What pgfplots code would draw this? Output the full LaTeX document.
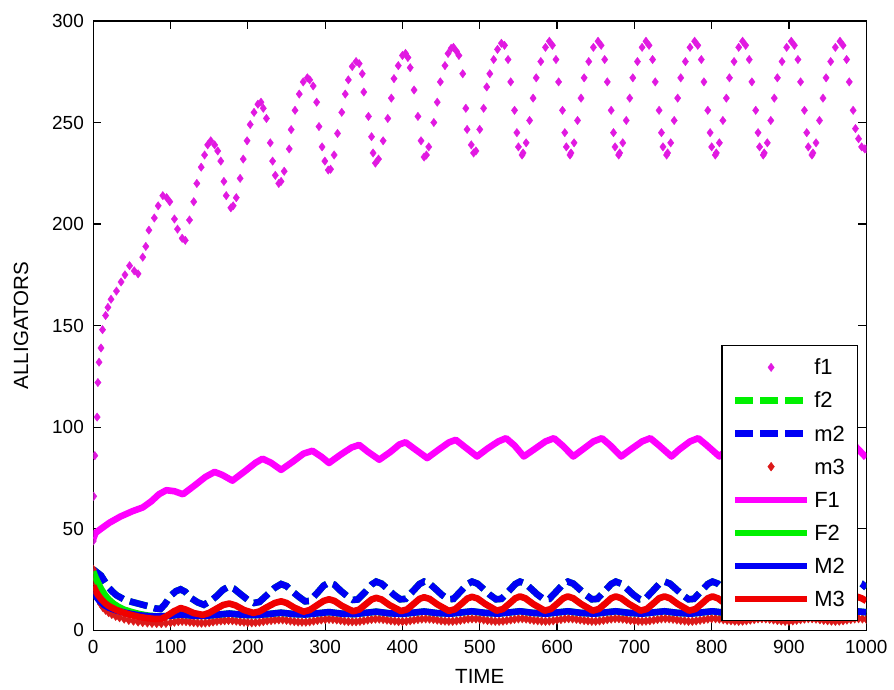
\documentclass[border=0pt]{standalone}
\usepackage{fontspec}
\setmainfont{Liberation Sans}
\usepackage{pgfplots}
\usepackage{pgfplotstable}
\pgfplotsset{compat=1.18}
\definecolor{mag}{RGB}{255,0,255}
\definecolor{magdot}{RGB}{225,25,225}
\definecolor{grn}{RGB}{0,240,0}
\definecolor{blu}{RGB}{0,0,245}
\definecolor{rd}{RGB}{240,0,0}
\definecolor{rddot}{RGB}{220,25,25}

\pgfplotstableread{
t v
0 44
0.5 66
2 86
5 105
6 122
7.5 132
10 139
12 148
16 155
19 159
23 163
30 167
36 171.5
41 175
47 179.5
53 177
58 175.5
64 183.7
68 189
72 197
79 203
84 209
90 214
95 213
99 211
105 202.5
109 197.5
115 193
119 192
124.5 202
130 211
134 220
139.6 228
144 234
148 239
152 241
157 239
161 236
165 231
169 221
172 214
178 208
181 209
185 213
190 222.5
194 232
199 241
203 249
208 255
213 259
217 260
220 257
224 252
229 240
232 231
235.5 224
240 220
243 221
247 226
253.5 237
256 246.5
261 256
266.5 264
271.6 270
277 272
280 271
284.5 268
289 260
292 248
296 238
299.6 231
304 226.6
307 227
311.6 234
316 244.6
321.5 255
326 264
330 271
335 277.6
340 280
344 279
348 274
350 265
356 253
360 243
362 235
365 230
369 232
375 241
381 252
385.6 262
389 271.6
394.6 278
400 283
404 284
407 282
410 277
415 266
420 253
424 241
428 233
431 234
434 238
440.6 250
445 260
449 270
455 278
459 284
463 286.5
466 287
470 285
473 283
478 274
482 257
483.6 246.6
489 239
492 235
495 236
500 246.6
505 257
509 267.5
513 274
518 281
523 286
528 289
532 288
536.6 281
540 270
545 256
548 245
550 238
554.7 234
556 235
560 240
564.5 251
569 262
573 272
579 280
585 287
590 290
594 288
598.6 281
602 270
607 256
610 245
612 238
616.7 234
618 235
622 240
626.5 251
631 262
635 272
641 280
647 287
653 290
657 288
661.6 281
665 270
670 256
673 245
675 238
679.7 234
681 235
685 240
689.5 251
694 262
698 272
704 280
710 287
715 290
719 288
723.6 281
727 270
732 256
735 245
737 238
741.7 234
743 235
747 240
751.5 251
756 262
760 272
766 280
772 287
778 290
782 288
786.6 281
790 270
795 256
798 245
800 238
804.7 234
806 235
810 240
814.5 251
819 262
823 272
829 280
835 287
840 290
844 288
848.6 281
852 270
857 256
860 245
862 238
866.7 234
868 235
872 240
876.5 251
881 262
885 272
891 280
897 287
903 290
907 288
911.6 281
915 270
920 256
923 245
925 238
929.7 234
931 235
935 240
939.5 251
944 262
948 272
954 280
960 287
966 290
970 288
974.6 281
978 270
983 256
986 247
990 242
994 238
998 237
1000 237
}\fone

\pgfplotstableread{
t v
0 30
5 28.5
10 27
15 24
20 21
25 19
30 17.3
40 15.2
50 14
60 13
70 12
80 10.8
87 10.5
93 13
100 17
107 19.3
113 20.2
119 19
126 16
135 13.8
143 12.6
152 14.5
160 17
168 20
175 21.5
182 20.5
190 18
200 15
208 13.5
215 14
225 17.5
235 21
243 22.8
250 21.8
258 19
266 16.5
274 14.3
280 14.5
290 18.5
298 22
305 23.5
312 22.5
320 19.5
328 17
336 15
342 15.2
352 19
360 22.5
366 24
373 23
381 20.3
389 17.5
397 15.3
404 15.5
414 19.5
422 22.8
428 24
435 23
443 20.3
451 17.5
459 15.3
466 15.5
476 19.5
484 22.8
490 24
497 23
505 20.3
513 17.5
521 15.3
528 15.5
538 19.5
546 22.8
552 24
559 23
567 20.3
575 17.5
583 15.3
590 15.5
600 19.5
608 22.8
614 24
621 23
629 20.3
637 17.5
645 15.3
652 15.5
662 19.5
670 22.8
676 24
683 23
691 20.3
699 17.5
707 15.3
714 15.5
724 19.5
732 22.8
739 24
746 23
754 20.3
762 17.5
770 15.3
777 15.5
787 19.5
795 22.8
801 24
808 23
816 20.3
824 17.5
832 15.3
839 15.5
849 19.5
857 22.8
863 24
870 23
878 20.3
886 17.5
894 15.3
901 15.5
911 19.5
919 22.8
925 24
932 23
940 20.3
948 17.5
956 15.3
963 15.5
973 19.5
981 22.8
987 24
994 23
1000 21
}\mtwo

\pgfplotstableread{
t v
0 30
0.5 27
1.5 24
3 20.5
5 17.5
7 15
9.5 13
12.5 11.3
16 10
20 8.8
24 7.9
29 7
34 6.3
40 5.6
46 5
52 4.6
58 4.2
64 3.9
70 3.7
76 3.5
82 3.4
88 3.4
94 3.5
100 3.8
105 4.1
110 4.4
115 4.5
120 4.4
125 4.1
130 3.9
135 3.7
140 3.6
145 3.7
150 3.9
155 4.2
160 4.5
165 4.7
170 4.8
175 4.9
180 4.8
185 4.6
190 4.3
195 4.1
200 3.9
205 3.8
210 3.9
215 4.1
220 4.4
225 4.7
230 4.9
235 5.1
240 5.2
245 5.2
250 5.0
255 4.7
260 4.4
265 4.2
270 4.1
275 4.1
280 4.3
285 4.6
290 4.9
295 5.2
300 5.4
305 5.5
310 5.4
315 5.2
320 4.9
325 4.6
330 4.4
335 4.3
340 4.3
345 4.5
350 4.8
355 5.1
360 5.4
365 5.6
370 5.6
375 5.4
380 5.1
385 4.8
390 4.6
395 4.4
400 4.4
405 4.5
410 4.8
415 5.1
420 5.4
425 5.6
430 5.7
435 5.6
440 5.4
445 5.1
450 4.8
455 4.6
460 4.5
465 4.5
470 4.7
475 5.0
480 5.3
485 5.6
490 5.7
495 5.7
500 5.5
505 5.2
510 4.9
515 4.7
520 4.5
525 4.5
530 4.6
535 4.9
540 5.2
545 5.5
550 5.7
555 5.8
560 5.6
565 5.3
570 5.0
575 4.8
580 4.6
585 4.5
590 4.6
595 4.8
600 5.1
605 5.4
610 5.7
615 5.8
620 5.7
625 5.5
630 5.2
635 4.9
640 4.7
645 4.5
650 4.5
655 4.7
660 5.0
665 5.3
670 5.6
675 5.8
680 5.8
685 5.6
690 5.3
695 5.0
700 4.8
705 4.6
710 4.5
715 4.6
720 4.8
725 5.1
730 5.4
735 5.7
740 5.8
745 5.7
750 5.5
755 5.2
760 4.9
765 4.7
770 4.5
775 4.5
780 4.7
785 5.0
790 5.3
795 5.6
800 5.8
805 5.8
810 5.6
815 5.3
820 5.0
825 4.8
830 4.6
835 4.5
840 4.6
845 4.8
850 5.1
855 5.4
860 5.7
865 5.8
870 5.7
875 5.5
880 5.2
885 4.9
890 4.7
895 4.5
900 4.5
905 4.7
910 5.0
915 5.3
920 5.6
925 5.8
930 5.8
935 5.6
940 5.3
945 5.0
950 4.8
955 4.6
960 4.5
965 4.6
970 4.8
975 5.1
980 5.4
985 5.7
990 5.8
995 5.7
1000 5.5
}\mthree

\pgfplotstableread{
t v
0 45
3 48
10 50
21 53
35 56
51 58.7
64 60.5
75 63.5
85 67
94.5 69
105 68.5
116 67
130 71
145 75.5
157 78
167 76.5
180 73.7
195 78
210 82.5
219 84.5
230 82.5
243 79
258 83
272 87
283.6 88.4
295 85.5
305 82.4
320 86.5
334 90
344 91.3
355 88
370 84
385 88
396 91.5
404 92.6
415 89.5
432 84.8
447 89
460 92.5
469 93.8
480 90.5
496.5 85.6
510 89.5
524 93
534 94.6
545 91
557 85.6
570 89
585 93
596 94.6
607 91
621 85.6
633 89
647 93
658 94.6
669 91
683 85.6
695 89
710 93
720.6 94.6
732 91
748 85.6
758 89
772 93
782.6 94.6
794 91
810 85.6
820 89
834 93
845 94.6
856 91
872 85.6
882 89
896 93
907 94.6
918 91
934 85.6
944 89
958 93
969 94.6
985 91
1000 85
}\Fone

\pgfplotstableread{
t v
0 29
3 26
6 23.5
10 20.5
15 17.5
20 15.2
26 13.2
32 11.7
40 10.2
50 9
60 8
72 7.2
85 6.8
100 7.2
113 7.8
130 7.2
145 7.1
160 7.7
176 8.3
195 7.6
210 7.5
228 8.1
243 8.7
260 8
274 7.8
290 8.4
305 9
322 8.2
338 8
352 8.6
366 9.2
383 8.4
400 8.1
414 8.7
428 9.3
445 8.5
462 8.2
476 8.8
490 9.4
507 8.6
524 8.2
538 8.8
552 9.4
569 8.6
586 8.2
600 8.8
614 9.4
631 8.6
648 8.2
662 8.8
676 9.4
693 8.6
710 8.2
724 8.8
739 9.4
756 8.6
773 8.2
787 8.8
801 9.4
818 8.6
835 8.2
849 8.8
863 9.4
880 8.6
897 8.2
911 8.8
925 9.4
942 8.6
959 8.2
973 8.8
987 9.4
1000 8.9
}\Ftwo

\pgfplotstableread{
t v
0 19
4 16.5
8 14.5
14 12.5
20 11.2
30 9.8
40 8.8
50 8
60 7.4
72 7
85 6.8
100 7.2
113 7.8
130 7.2
145 7.1
160 7.7
176 8.3
195 7.6
210 7.5
228 8.1
243 8.7
260 8
274 7.8
290 8.4
305 9
322 8.2
338 8
352 8.6
366 9.2
383 8.4
400 8.1
414 8.7
428 9.3
445 8.5
462 8.2
476 8.8
490 9.4
507 8.6
524 8.2
538 8.8
552 9.4
569 8.6
586 8.2
600 8.8
614 9.4
631 8.6
648 8.2
662 8.8
676 9.4
693 8.6
710 8.2
724 8.8
739 9.4
756 8.6
773 8.2
787 8.8
801 9.4
818 8.6
835 8.2
849 8.8
863 9.4
880 8.6
897 8.2
911 8.8
925 9.4
942 8.6
959 8.2
973 8.8
987 9.4
1000 8.9
}\Mtwo

\pgfplotstableread{
t v
0 22
3 19.5
6 17.5
10 15.5
15 13.5
20 12
30 10
40 8.6
50 7.5
60 6.6
70 6
80 5.6
88 5.7
95 7
104 9.3
113 11
120 10.2
130 8.5
142 7.6
150 8.6
160 10.8
168 12.5
176 13.2
184 12.3
195 10
207 8.6
215 9.3
225 11.5
235 13.5
243 14.3
250 13.5
260 11.2
272 9.2
280 10
290 12.5
298 14.5
305 15.3
312 14.5
322 12
336 9.4
344 10.2
353 13
360 15.2
366 16
373 15.2
383 12.5
398 9.5
406 10.3
415 13.2
422 15.5
428 16.3
435 15.5
445 12.8
460 9.6
468 10.4
477 13.3
484 15.7
490 16.5
497 15.7
507 13
522 9.7
530 10.5
539 13.4
546 15.8
552 16.7
559 15.8
569 13
584 9.7
592 10.5
601 13.4
608 15.8
614 16.7
621 15.8
631 13
646 9.7
654 10.5
663 13.4
670 15.8
676 16.7
683 15.8
693 13
708 9.7
716 10.5
725 13.4
732 15.8
739 16.7
746 15.8
756 13
771 9.7
779 10.5
788 13.4
795 15.8
801 16.7
808 15.8
818 13
833 9.7
841 10.5
850 13.4
857 15.8
863 16.7
870 15.8
880 13
895 9.7
903 10.5
912 13.4
919 15.8
925 16.7
932 15.8
942 13
957 9.7
965 10.5
974 13.4
981 15.8
987 16.7
994 15.8
1000 14.5
}\Mthree

\begin{document}
\begin{tikzpicture}
\begin{axis}[
  width=387.5pt, height=305.5pt, scale only axis,
  xmin=0, xmax=1000, ymin=0, ymax=300,
  xtick={0,100,...,1000}, ytick={0,50,...,300},
  tick align=inside, major tick length=4pt,
  axis line style={line width=0.6pt},
  every tick/.style={black, line width=0.6pt},
  /pgf/number format/assume math mode=true,
  /pgf/number format/set thousands separator={},
  tick label style={font=\fontsize{9.5}{10}\selectfont},
  xticklabel style={yshift=-1.2pt},
  yticklabel style={xshift=-1.2pt},
  xlabel={TIME}, ylabel={ALLIGATORS},
  label style={font=\fontsize{10.3}{11}\selectfont},
  xlabel style={at={(axis description cs:0.5,0)}, anchor=center, yshift=-23pt},
  ylabel style={at={(axis description cs:-0.0935,0.5)}, anchor=center},
  legend image code/.code={\draw[mark repeat=2,mark phase=2,#1] plot coordinates {(0pt,0pt) (18pt,0pt) (36pt,0pt)};},
  legend cell align=left,
  legend style={at={(1,0)}, anchor=south east, xshift=-4.25pt, yshift=4.5pt,
    font=\fontsize{11}{12}\selectfont, draw=black, line width=0.6pt,
    inner xsep=5pt, inner ysep=6.1pt, row sep=7.1pt,
    nodes={inner xsep=2pt, inner ysep=1pt, text height=7.5pt, text depth=0pt}},
  clip marker paths=true,
]
\addplot[only marks, mark=diamond*, mark size=2.1pt, mark options={fill=magdot, draw=magdot, line width=0.2pt}] table[x=t,y=v] {\fone};
\addlegendentry{\makebox[14.5pt][l]{f1}}
\addplot[grn, line width=3.3pt, dash pattern=on 9pt off 3.5pt] table[x=t,y=v] {\mtwo};
\addlegendentry{\makebox[14.5pt][l]{f2}}
\addplot[blu, line width=3.3pt, dash pattern=on 9pt off 3.5pt] table[x=t,y=v] {\mtwo};
\addlegendentry{\makebox[14.5pt][l]{m2}}
\addplot[only marks, mark=diamond*, mark size=2.2pt, mark options={fill=rddot, draw=rddot, line width=0.2pt}] table[x=t,y=v] {\mthree};
\addlegendentry{\makebox[14.5pt][l]{m3}}
\addplot[mag, line width=3.3pt, line join=round] table[x=t,y=v] {\Fone};
\addlegendentry{\makebox[14.5pt][l]{F1}}
\addplot[grn, line width=3.3pt, line join=round] table[x=t,y=v] {\Ftwo};
\addlegendentry{\makebox[14.5pt][l]{F2}}
\addplot[blu, line width=3.3pt, line join=round] table[x=t,y=v] {\Mtwo};
\addlegendentry{\makebox[14.5pt][l]{M2}}
\addplot[rd, line width=3.3pt, line join=round] table[x=t,y=v] {\Mthree};
\addlegendentry{\makebox[14.5pt][l]{M3}}
\end{axis}
\path ([shift={(-46.75pt,-29pt)}]current axis.south west) rectangle ([shift={(12.75pt,10.5pt)}]current axis.north east);
\end{tikzpicture}
\end{document}
